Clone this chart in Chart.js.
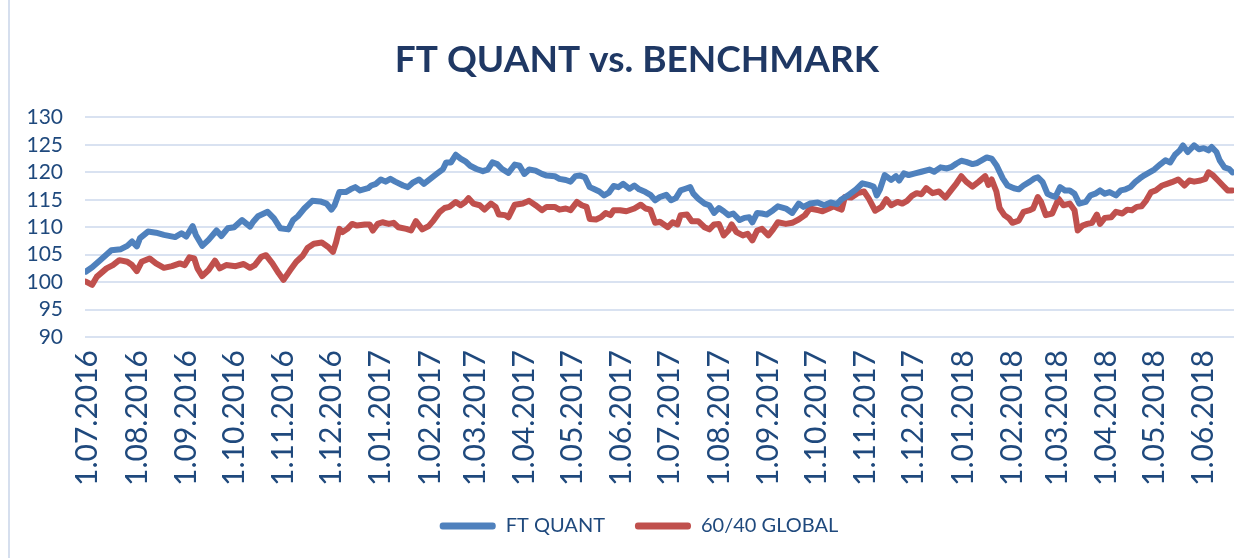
<!DOCTYPE html>
<html>
<head>
<meta charset="utf-8">
<script src="https://cdn.jsdelivr.net/npm/chart.js@4"></script>
<style>
  html, body { margin: 0; background: #fff; }
  #wrap { width: 1253px; height: 558px; }
</style>
</head>
<body>
<div id="wrap"><canvas id="chart" width="1253" height="558"></canvas></div>
<script>
// month ticks: days counted from 1.07.2016
const monthDays = [0, 31, 62, 92, 123, 153, 184, 215, 243, 274, 304, 335, 365, 396, 427, 457, 488, 518, 549, 580, 608, 639, 669, 700];
const monthLabels = ['1.07.2016', '1.08.2016', '1.09.2016', '1.10.2016', '1.11.2016', '1.12.2016',
  '1.01.2017', '1.02.2017', '1.03.2017', '1.04.2017', '1.05.2017', '1.06.2017',
  '1.07.2017', '1.08.2017', '1.09.2017', '1.10.2017', '1.11.2017', '1.12.2017',
  '1.01.2018', '1.02.2018', '1.03.2018', '1.04.2018', '1.05.2018', '1.06.2018'];

// FT QUANT
const quantDays = [-1,3,8,15,21,25,28,31,33,38,43,48,55,59,62,66,68,72,76,81,84,88,92,97,102,104,107,113,117,121,
  126,129,132,136,141,146,150,153,155,158,162,165,168,171,176,178,181,184,187,190,193,198,201,204,208,211,215,219,223,225,
  228,231,234,237,240,244,248,251,254,257,260,264,268,271,274,277,281,285,288,293,296,300,303,306,309,312,315,318,321,324,
  327,330,333,336,340,343,346,350,353,356,359,363,366,369,372,375,378,380,383,387,390,393,396,399,402,405,409,412,415,417,
  420,423,426,430,433,438,442,446,449,453,458,462,466,470,473,477,482,486,490,493,495,497,500,504,507,509,512,515,519,523,
  528,531,535,539,542,545,548,551,555,558,561,564,567,570,574,577,581,584,587,591,594,596,599,602,605,607,610,613,616,619,
  622,626,629,632,635,638,641,645,648,651,654,657,660,663,666,669,673,676,679,682,685,687,690,694,697,700,703,705,708,710,
  713,716,718];
const quantValues = [101.9,102.7,104.0,105.8,106.0,106.6,107.4,106.5,108.0,109.2,109.0,108.6,108.2,108.9,108.3,110.2,108.6,106.6,107.7,109.4,108.4,109.8,110.0,111.3,110.1,111.0,112.0,112.8,111.6,109.8,
  109.6,111.3,112.0,113.4,114.8,114.7,114.3,113.2,114.0,116.4,116.4,116.9,117.3,116.7,117.1,117.6,117.9,118.7,118.3,118.8,118.3,117.6,117.3,118.1,118.7,117.9,118.8,119.7,120.6,121.8,
  121.8,123.2,122.5,122.0,121.2,120.6,120.2,120.5,121.8,121.5,120.6,119.9,121.4,121.2,119.7,120.5,120.3,119.7,119.4,119.3,118.8,118.6,118.3,119.3,119.4,119.1,117.3,116.9,116.5,115.8,
  116.3,117.5,117.3,117.9,117.0,117.6,116.9,116.4,115.9,114.9,115.5,115.9,114.9,115.3,116.7,117.0,117.3,116.1,115.2,114.3,114.0,112.6,113.5,112.9,112.2,112.5,111.3,111.7,111.8,110.9,
  112.6,112.5,112.3,113.1,113.8,113.4,112.6,114.3,113.7,114.3,114.5,114.0,114.5,114.2,115.1,115.8,116.9,118.0,117.7,117.4,115.8,116.9,119.5,118.6,119.3,118.5,119.8,119.5,119.8,120.1,
  120.5,120.1,120.9,120.7,121.0,121.6,122.1,121.9,121.5,121.7,122.2,122.7,122.5,121.3,118.9,117.6,117.1,116.9,117.6,118.3,118.9,119.1,118.2,116.1,115.7,115.5,117.3,116.7,116.7,116.1,
  114.3,114.6,115.8,116.1,116.7,116.1,116.4,115.8,116.7,116.9,117.3,118.2,118.9,119.5,120.0,120.5,121.5,122.2,121.8,123.2,124.0,124.9,123.7,124.9,124.2,124.4,124.0,124.6,123.7,122.2,
  120.9,120.6,120.0];

// 60/40 GLOBAL
const globalDays = [-1,3,6,12,16,20,25,28,31,34,39,43,48,53,58,61,64,67,69,72,76,80,83,87,93,98,102,105,109,112,
  116,120,123,127,131,135,138,142,147,151,154,156,158,160,163,166,169,174,177,179,182,185,189,192,195,200,203,206,210,214,
  217,221,224,227,231,234,237,239,242,246,249,253,256,258,262,264,268,273,277,281,285,288,293,296,300,303,307,310,313,315,
  319,322,325,328,330,334,338,343,347,350,353,356,359,364,367,370,372,376,379,383,387,390,393,396,399,402,404,407,411,414,
  417,420,423,427,430,433,438,442,446,450,453,458,461,465,468,471,473,475,479,483,487,490,494,498,501,504,508,511,514,517,
  520,523,526,530,534,538,542,545,548,551,555,559,563,565,567,570,572,575,578,580,584,587,591,593,596,598,601,605,607,609,
  612,616,619,621,624,627,630,633,635,638,642,645,649,652,655,658,661,664,667,670,674,677,680,684,688,691,694,698,701,703,
  706,709,712,715,718];
const globalValues = [100.1,99.5,101.0,102.5,103.1,104.0,103.7,103.1,102.0,103.7,104.3,103.4,102.6,102.9,103.4,103.1,104.5,104.3,102.5,101.1,102.2,103.9,102.5,103.1,102.9,103.3,102.6,103.1,104.6,104.9,
  103.4,101.6,100.4,102.1,103.7,104.8,106.2,107.0,107.2,106.4,105.5,107.3,109.7,109.1,109.7,110.6,110.3,110.5,110.5,109.4,110.6,110.9,110.6,110.8,110.0,109.7,109.4,111.1,109.6,110.2,
  111.2,112.8,113.5,113.7,114.6,114.0,114.6,115.3,114.3,114.0,113.2,114.3,113.7,112.3,112.2,111.8,114.1,114.3,114.8,114.0,113.1,113.7,113.7,113.2,113.4,113.1,114.6,114.0,113.7,111.5,
  111.4,111.8,112.6,112.2,113.1,113.1,112.9,113.4,114.1,113.4,113.2,110.8,111.0,110.0,110.9,110.5,112.2,112.3,111.1,111.1,110.0,109.6,110.5,110.6,108.5,109.4,110.5,109.1,108.5,108.8,
  107.6,109.4,109.7,108.5,109.6,110.9,110.6,110.8,111.4,112.2,113.4,113.1,112.9,113.4,113.8,113.4,113.2,115.5,115.4,116.2,116.5,115.2,113.0,113.7,115.1,114.0,114.6,114.3,114.8,115.7,
  116.2,116.0,117.1,116.2,116.5,115.4,116.9,118.0,119.3,118.3,117.4,118.3,119.3,117.7,118.7,116.5,113.5,112.2,111.6,110.8,111.2,112.8,113.1,113.4,115.5,114.6,112.2,112.5,113.8,115.2,
  114.0,114.3,113.1,109.4,110.3,110.6,110.8,112.3,110.6,111.7,111.8,112.8,112.5,113.2,113.1,113.7,113.8,114.9,116.4,116.7,117.6,117.9,118.2,118.7,117.6,118.5,118.3,118.5,118.8,120.0,
  119.4,118.5,117.6,116.7,116.7];

const textColor = '#1F497D';

// white background and the light frame line on the left
const framePlugin = {
  id: 'frame',
  beforeDraw(chart) {
    const c = chart.ctx;
    c.save();
    c.fillStyle = '#fff';
    c.fillRect(0, 0, chart.width, chart.height);
    c.strokeStyle = '#D6DFEE';
    c.lineWidth = 2;
    c.beginPath();
    c.moveTo(9, 0);
    c.lineTo(9, chart.height);
    c.stroke();
    c.restore();
  },
  // title and legend sit a bit right of the canvas centre in the original
  afterLayout(chart) {
    if (chart.legend) {
      chart.legend.left += 22;
      chart.legend.right += 22;
    }
    if (chart.titleBlock) {
      chart.titleBlock.left += 20;
      chart.titleBlock.right += 20;
    }
  }
};

const ctx = document.getElementById('chart').getContext('2d');
new Chart(ctx, {
  type: 'line',
  data: {
    datasets: [
      {
        label: 'FT QUANT',
        data: quantDays.map((d, i) => ({ x: d, y: quantValues[i] })),
        borderColor: '#4F81BD', backgroundColor: '#4F81BD',
        borderWidth: 6, pointRadius: 0, tension: 0,
        borderJoinStyle: 'round', borderCapStyle: 'round'
      },
      {
        label: '60/40 GLOBAL',
        data: globalDays.map((d, i) => ({ x: d, y: globalValues[i] })),
        borderColor: '#C0504D', backgroundColor: '#C0504D',
        borderWidth: 6, pointRadius: 0, tension: 0,
        borderJoinStyle: 'round', borderCapStyle: 'round'
      }
    ]
  },
  options: {
    responsive: false,
    animation: false,
    layout: { padding: { left: 0, right: 19, top: 0, bottom: 12 } },
    plugins: {
      title: {
        display: true,
        text: 'FT QUANT vs. BENCHMARK',
        color: '#1F3864',
        font: { family: 'Lato', size: 37, weight: 'bold', lineHeight: 1.2 },
        padding: { top: 38, bottom: 35 }
      },
      legend: {
        position: 'bottom',
        labels: {
          color: textColor,
          font: { family: 'Lato', size: 20 },
          boxWidth: 56, boxHeight: 7, padding: 30,
          useBorderRadius: true, borderRadius: 3,
          generateLabels(chart) {
            return chart.data.datasets.map((ds, i) => ({
              text: ds.label, fillStyle: ds.borderColor, strokeStyle: ds.borderColor,
              lineWidth: 0, borderRadius: 3, fontColor: textColor, datasetIndex: i, hidden: false
            }));
          }
        }
      },
      tooltip: { enabled: false }
    },
    scales: {
      x: {
        type: 'linear', min: -1.5, max: 719,
        afterBuildTicks(scale) { scale.ticks = monthDays.map(v => ({ value: v })); },
        afterFit(scale) { scale.height = 149; },
        ticks: {
          autoSkip: false, minRotation: 90, maxRotation: 90, padding: 5,
          color: textColor, font: { family: 'Lato', size: 30 },
          callback: v => monthLabels[monthDays.indexOf(v)]
        },
        grid: { display: false },
        border: { display: false }
      },
      y: {
        min: 90, max: 130,
        afterFit(scale) { scale.width = 85; },
        ticks: { stepSize: 5, autoSkip: false, padding: 22, color: textColor, font: { family: 'Lato', size: 21 } },
        grid: { color: '#D9E2F1', lineWidth: 2, drawTicks: false },
        border: { display: false }
      }
    }
  },
  plugins: [framePlugin]
});
</script>
</body>
</html>
